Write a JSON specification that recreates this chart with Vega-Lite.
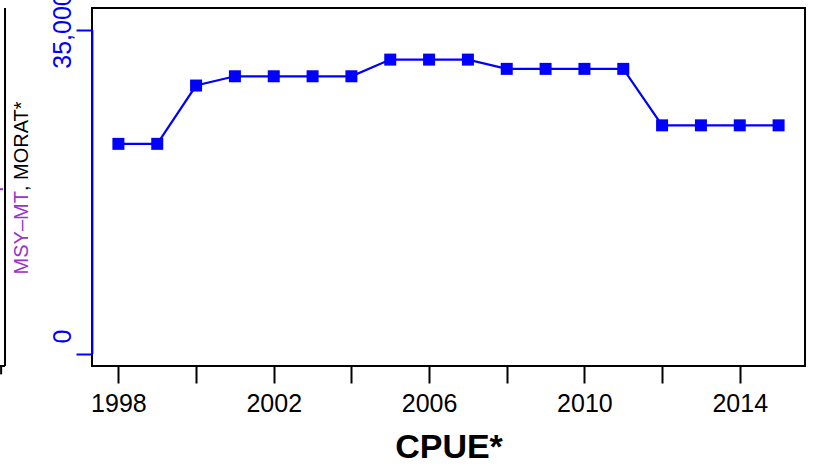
{
  "$schema": "https://vega.github.io/schema/vega-lite/v6.json",
  "width": 713,
  "height": 358,
  "autosize": {"type": "none"},
  "padding": {"left": 92, "top": 8, "right": 11, "bottom": 100},
  "background": "white",
  "config": {"view": {"stroke": "black", "strokeWidth": 2}, "font": "Liberation Sans"},
  "datasets": {
    "cpue": [
      {"year": 1998, "v": 22700},
      {"year": 1999, "v": 22700},
      {"year": 2000, "v": 29000},
      {"year": 2001, "v": 30000},
      {"year": 2002, "v": 30000},
      {"year": 2003, "v": 30000},
      {"year": 2004, "v": 30000},
      {"year": 2005, "v": 31800},
      {"year": 2006, "v": 31800},
      {"year": 2007, "v": 31800},
      {"year": 2008, "v": 30800},
      {"year": 2009, "v": 30800},
      {"year": 2010, "v": 30800},
      {"year": 2011, "v": 30800},
      {"year": 2012, "v": 24700},
      {"year": 2013, "v": 24700},
      {"year": 2014, "v": 24700},
      {"year": 2015, "v": 24700}
    ],
    "one": [{}]
  },
  "layer": [
    {
      "data": {"name": "cpue"},
      "mark": {"type": "line", "color": "#0000FF", "strokeWidth": 2.2},
      "encoding": {
        "x": {
          "field": "year", "type": "quantitative",
          "scale": {"domain": [1997.32, 2015.68], "nice": false, "zero": false},
          "axis": {
            "values": [1998, 2000, 2002, 2004, 2006, 2008, 2010, 2012, 2014],
            "labelExpr": "(datum.value - 1998) % 4 == 0 ? format(datum.value, 'd') : ''",
            "domain": false, "grid": false,
            "tickColor": "black", "tickWidth": 2, "tickSize": 17,
            "labelFontSize": 25, "labelColor": "black", "labelPadding": 8, "labelFlush": false,
            "title": "CPUE*", "titleFontSize": 34, "titleFontWeight": "bold", "titleColor": "black", "titlePadding": 14
          }
        },
        "y": {
          "field": "v", "type": "quantitative",
          "scale": {"domain": [-1296, 37375], "nice": false, "zero": false},
          "axis": {
            "values": [0, 35000],
            "labelExpr": "format(datum.value, ',')",
            "domain": false, "grid": false,
            "tickColor": "#0000FF", "tickWidth": 2, "tickSize": 16,
            "labelAngle": -90, "labelFontSize": 25, "labelColor": "#0000FF", "labelPadding": 1, "labelFlush": false,
            "labelOffset": {"condition": {"test": "datum.value == 0", "value": -18}, "value": 0},
            "title": null
          }
        }
      }
    },
    {
      "data": {"name": "cpue"},
      "mark": {"type": "square", "size": 144, "color": "#0000FF", "opacity": 1},
      "encoding": {
        "x": {"field": "year", "type": "quantitative"},
        "y": {"field": "v", "type": "quantitative"}
      }
    },
    {
      "data": {"name": "one"},
      "mark": {"type": "rule", "color": "#0000FF", "strokeWidth": 2},
      "encoding": {
        "x": {"datum": 1997.33, "type": "quantitative"},
        "y": {"datum": 0, "type": "quantitative"},
        "y2": {"datum": 35000}
      }
    },
    {
      "data": {"name": "one"},
      "mark": {"type": "rule", "color": "black", "strokeWidth": 2},
      "encoding": {
        "x": {"datum": 1995.08, "type": "quantitative"},
        "y": {"datum": 37375, "type": "quantitative"},
        "y2": {"datum": -1296}
      }
    },
    {
      "data": {"name": "one"},
      "mark": {"type": "rule", "color": "black", "strokeWidth": 2},
      "encoding": {
        "x": {"datum": 1994.9, "type": "quantitative"},
        "x2": {"datum": 1995.08},
        "y": {"datum": -1296, "type": "quantitative"}
      }
    },
    {
      "data": {"name": "one"},
      "mark": {"type": "rule", "color": "black", "strokeWidth": 2},
      "encoding": {
        "x": {"datum": 1994.98, "type": "quantitative"},
        "y": {"datum": -1296, "type": "quantitative"},
        "y2": {"datum": -2200}
      }
    },
    {
      "data": {"name": "one"},
      "mark": {"type": "rule", "color": "#9932CC", "strokeWidth": 2},
      "encoding": {
        "x": {"datum": 1994.9, "type": "quantitative"},
        "x2": {"datum": 1995.03},
        "y": {"datum": 17800, "type": "quantitative"}
      }
    },
    {
      "data": {"name": "one"},
      "mark": {"type": "text", "angle": 270, "align": "right", "baseline": "middle", "fontSize": 20, "color": "#9932CC", "font": "Liberation Sans"},
      "encoding": {
        "x": {"datum": 1995.53, "type": "quantitative"},
        "y": {"datum": 17600, "type": "quantitative"},
        "text": {"value": "MSY–MT"}
      }
    },
    {
      "data": {"name": "one"},
      "mark": {"type": "text", "angle": 270, "align": "left", "baseline": "middle", "fontSize": 20, "color": "black", "font": "Liberation Sans"},
      "encoding": {
        "x": {"datum": 1995.53, "type": "quantitative"},
        "y": {"datum": 17600, "type": "quantitative"},
        "text": {"value": ", MORAT*"}
      }
    }
  ]
}
